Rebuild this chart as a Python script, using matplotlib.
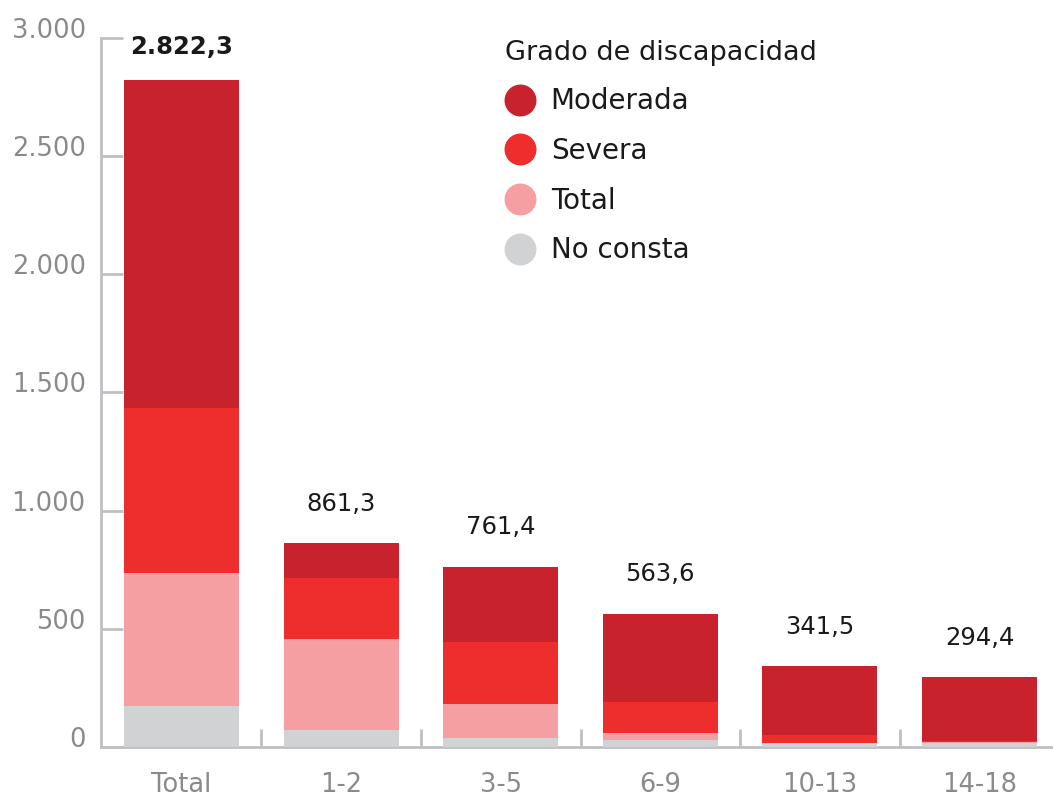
import matplotlib
matplotlib.use("Agg")
import matplotlib.pyplot as plt
from matplotlib.lines import Line2D
from matplotlib.ticker import FuncFormatter
import numpy as np

# data (miles)
categories = ["Total", "1-2", "3-5", "6-9", "10-13", "14-18"]
no_consta = [174, 72, 38, 30, 15, 15]
total_grado = [562, 385, 144, 29, 3, 8]
severa = [699, 258, 262, 131, 34, 2]
moderada = [1387.3, 146.3, 317.4, 373.6, 289.5, 269.4]
totales = [2822.3, 861.3, 761.4, 563.6, 341.5, 294.4]

series = [("No consta", no_consta, "#d1d2d4"),
          ("Total", total_grado, "#f59fa3"),
          ("Severa", severa, "#ee2e2c"),
          ("Moderada", moderada, "#c8232c")]

plt.rcParams["font.family"] = ["DejaVu Sans"]
axis_gray = "#bfc0c3"
label_gray = "#8a8a8d"

fig = plt.figure(figsize=(10.53, 7.98), dpi=100)
ax = fig.add_axes([0.0959, 0.0639, 0.9041, 0.8885])

x = np.arange(len(categories))
bottom = np.zeros(len(categories))
for name, vals, col in series:
    ax.bar(x, vals, width=0.72, bottom=bottom, color=col, zorder=3)
    bottom += np.array(vals)

def fmt_es(v):
    s = f"{v:,.1f}"
    return s.replace(",", "X").replace(".", ",").replace("X", ".")

for i, v in enumerate(totales):
    # the bold total sits a bit closer to its bar
    ax.annotate(fmt_es(v), (x[i], v), xytext=(0, 15 if i == 0 else 20),
                textcoords="offset points", ha="center", va="bottom",
                fontsize=17.5, color="#1a1a1a",
                fontweight="bold" if i == 0 else "normal")

ax.set_xlim(-0.504, 5.46)
ax.set_ylim(0, 3000)
ax.set_yticks(np.arange(0, 3001, 500))
ax.yaxis.set_major_formatter(FuncFormatter(lambda v, p: f"{int(v):,}".replace(",", ".")))
ax.tick_params(axis="y", direction="in", length=16, width=2, color=axis_gray,
               labelsize=18.5, labelcolor=label_gray, pad=11)
for lab in ax.get_yticklabels():
    lab.set_va("baseline")

ax.set_xticks(x)
ax.set_xticklabels(categories)
ax.set_xticks(x[:-1] + 0.5, minor=True)
ax.tick_params(axis="x", which="major", length=0, labelsize=18.5,
               labelcolor=label_gray, pad=18)
ax.tick_params(axis="x", which="minor", direction="in", length=13, width=2,
               color=axis_gray)

for side in ["top", "right"]:
    ax.spines[side].set_visible(False)
for side in ["left", "bottom"]:
    ax.spines[side].set_color(axis_gray)
    ax.spines[side].set_linewidth(2)

handles = [Line2D([], [], marker="o", linestyle="", markersize=22,
                  markerfacecolor=col, markeredgecolor=col, label=name)
           for name, vals, col in series[::-1]]
leg = ax.legend(handles=handles, title="Grado de discapacidad", loc="upper left",
                bbox_to_anchor=(0.398, 1.033), frameon=False, fontsize=20,
                title_fontsize=19.5, labelspacing=0.78, handletextpad=0.55,
                handlelength=1.1, alignment="left")
leg.get_title().set_color("#1a1a1a")
for t in leg.get_texts():
    t.set_color("#1a1a1a")

fig.savefig("out.png", dpi=100)
